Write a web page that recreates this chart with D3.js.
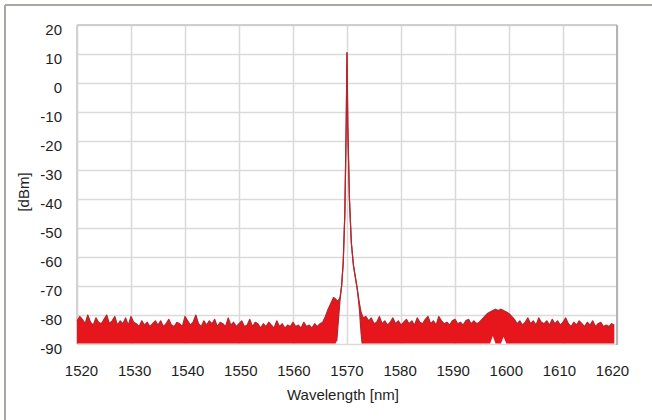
<!DOCTYPE html>
<html>
<head>
<meta charset="utf-8">
<script src="https://cdn.jsdelivr.net/npm/d3@7"></script>
<style>
  html, body { margin: 0; padding: 0; background: #fff; }
  svg { display: block; font-family: "Liberation Sans", Arial, sans-serif; }
</style>
</head>
<body>
<svg id="chart" width="652" height="420"></svg>
<script>
// ---------------- data ----------------
const xTicks = [1520, 1530, 1540, 1550, 1560, 1570, 1580, 1590, 1600, 1610, 1620];
const yTicks = [20, 10, 0, -10, -20, -30, -40, -50, -60, -70, -80, -90];
const xTitle = "Wavelength [nm]";
const yTitle = "[dBm]";

// noise floor bottom of the trace band
const floorDbm = -89.8;

// left noise: 1520.0 .. 1565.0 every 0.5 nm (upper envelope, dBm)
const leftNoiseTop = [
  -82, -80.5, -81.5, -83, -80, -82.5, -83.5, -81, -82.5, -83,
  -81.5, -80, -83, -82, -80.5, -83.5, -82, -83, -81, -83.5,
  -80.5, -82.5, -83, -84, -82, -83.5, -82.5, -84, -83, -82,
  -83.5, -82, -84, -83, -81.5, -83.5, -84, -82.5, -83, -84,
  -80.5, -82, -83.5, -82.5, -80, -83, -84, -82, -83.5, -82,
  -83, -81.5, -84, -82.5, -83, -84, -81, -83.5, -82.5, -84,
  -83, -82, -84, -83.5, -81.5, -84, -82.5, -83, -84.5, -83,
  -84, -82.5, -83.5, -84.5, -82, -84, -83, -84.5, -83.5, -84,
  -82.5, -84, -83.5, -84.5, -82.5, -84, -83.5, -84.5, -83, -84,
  -83
];

// laser line region (wavelength, upper, lower)
const peakWl     = [1565.5, 1566.0, 1566.5, 1567.0, 1567.5, 1567.9, 1568.1, 1568.4, 1568.7, 1569.0, 1569.3, 1569.6, 1569.85, 1570.0, 1570.15, 1570.45, 1570.8, 1571.2, 1571.55, 1571.9, 1572.3, 1572.6, 1572.8, 1573.0, 1573.5];
const peakTop    = [-82.5, -80.5, -78, -76, -74, -74.5, -75, -75, -74, -70, -62, -45, -15, 10.5, -15, -40, -55, -63, -67, -71, -76, -79, -80, -81, -80.5];
const peakBottom = [-89.8, -89.8, -89.8, -89.8, -89.8, -89.8, -89, -82, -75, -70, -62, -45, -15, 10.5, -15, -40, -55, -63, -67, -71, -78, -86, -89.8, -89.8, -89.8];

// right noise: 1574.0 .. 1619.5 every 0.5 nm (upper envelope, dBm)
const rightNoiseTop = [
  -82, -81, -83, -82.5, -80.5, -83, -82, -83.5, -82.5, -81,
  -83, -82, -83.5, -82.5, -81.5, -83, -82, -83.5, -81, -82.5,
  -83, -81.5, -80.5, -83, -82, -83.5, -80.5, -82, -83, -82.5,
  -83.5, -82, -81.5, -83, -82.5, -83.5, -82, -81.5, -83, -82,
  -83, -82.5, -81.5, -80.5, -79.5, -79, -78.5, -78, -78.5, -78,
  -78.5, -79, -79.5, -80.5, -81.5, -83, -82, -83.5, -82.5, -81,
  -83, -82, -83.5, -81, -82.5, -83, -82, -83.5, -81.5, -83,
  -82, -83.5, -82.5, -81, -83, -84, -82.5, -83.5, -82, -83,
  -84, -82.5, -83.5, -82, -84, -83, -82.5, -84, -83.5, -84,
  -83, -83.5
];
// small notches in the lower edge of the right noise band
const rightNoiseNotchWl = [1597.0, 1599.0];
const rightNoiseNotchDbm = [-87.2, -87.5];

// ---------------- build series ----------------
const leftWl = d3.range(0, leftNoiseTop.length).map(i => 1520 + i * 0.5);
const rightWl = d3.range(0, rightNoiseTop.length).map(i => 1574 + i * 0.5);
const series = [];
leftWl.forEach((w, i) => series.push({ wl: w, top: leftNoiseTop[i], bottom: floorDbm }));
peakWl.forEach((w, i) => series.push({ wl: w, top: peakTop[i], bottom: peakBottom[i] }));
rightWl.forEach((w, i) => {
  const k = rightNoiseNotchWl.indexOf(w);
  series.push({ wl: w, top: rightNoiseTop[i], bottom: k >= 0 ? rightNoiseNotchDbm[k] : floorDbm });
});

// ---------------- layout ----------------
const svg = d3.select("#chart");
const pL = 77, pR = 617, pT = 25, pB = 344;

svg.append("rect").attr("width", 652).attr("height", 420).attr("fill", "#fff");

// outer frame (top and left edges of the panel)
svg.append("line").attr("x1", 5).attr("x2", 652).attr("y1", 5).attr("y2", 5)
  .attr("stroke", "#a9a79f").attr("stroke-width", 2);
svg.append("line").attr("x1", 5).attr("x2", 5).attr("y1", 5).attr("y2", 420)
  .attr("stroke", "#a9a79f").attr("stroke-width", 2);

const x = d3.scaleLinear().domain([1520, 1620]).range([pL, pR]);
const y = d3.scaleLinear().domain([-90, 20]).range([pB, pT]);
const xLabel = x.copy().range([81, 612]);

// gridlines
const gridColor = "#dadada";
const gx = svg.append("g").attr("transform", `translate(0,${pB})`)
  .call(d3.axisBottom(x).tickValues(xTicks).tickSize(-(pB - pT)).tickFormat(""));
gx.select(".domain").remove();
gx.selectAll("line").attr("stroke", gridColor).attr("stroke-width", 1.5);

const gy = svg.append("g").attr("transform", `translate(${pL},0)`)
  .call(d3.axisLeft(y).tickValues(yTicks).tickSize(-(pR - pL)).tickFormat(""));
gy.select(".domain").remove();
gy.selectAll("line").attr("stroke", gridColor).attr("stroke-width", 1.5);

// plot frame
svg.append("line").attr("x1", pL).attr("x2", pR).attr("y1", pT).attr("y2", pT)
  .attr("stroke", "#cfcfcf").attr("stroke-width", 2);
svg.append("line").attr("x1", pL).attr("x2", pL).attr("y1", pT).attr("y2", pB)
  .attr("stroke", "#d2d2d2").attr("stroke-width", 2);
svg.append("line").attr("x1", pR).attr("x2", pR).attr("y1", pT).attr("y2", pB + 1)
  .attr("stroke", "#b4b4b4").attr("stroke-width", 2);

// trace band
const area = d3.area()
  .x(d => x(d.wl))
  .y0(d => y(d.bottom))
  .y1(d => y(d.top));
svg.append("path").datum(series)
  .attr("d", area)
  .attr("fill", "#e6161c");

const line = d3.line().x(d => x(d.wl)).y(d => y(d.top));
svg.append("path").datum(series)
  .attr("d", line)
  .attr("fill", "none")
  .attr("stroke", "#b3262c")
  .attr("stroke-width", 1.2)
  .attr("stroke-linejoin", "round");

// inner (lower) edge around the laser line
const peakSeries = series.filter(d => d.wl >= 1568.0 && d.wl <= 1572.9);
const lowLine = d3.line().x(d => x(d.wl)).y(d => y(d.bottom));
svg.append("path").datum(peakSeries)
  .attr("d", lowLine)
  .attr("fill", "none")
  .attr("stroke", "#b3262c")
  .attr("stroke-width", 1.2);

// axes labels (plain hyphen-minus, as in the reference)
const fmt = d => String(d);
const textColor = "#1e1e1e";
const ax = svg.append("g").attr("transform", `translate(0,${pB})`)
  .call(d3.axisBottom(xLabel).tickValues(xTicks).tickSize(0).tickPadding(21).tickFormat(fmt));
ax.select(".domain").remove();
ax.selectAll("text").attr("font-size", 15).attr("fill", textColor)
  .attr("font-family", "'Liberation Sans', Arial, sans-serif");

const ay = svg.append("g").attr("transform", `translate(${pL},0)`)
  .call(d3.axisLeft(y).tickValues(yTicks).tickSize(0).tickPadding(15).tickFormat(fmt));
ay.select(".domain").remove();
ay.selectAll("text").attr("font-size", 15).attr("fill", textColor).attr("y", 5)
  .attr("font-family", "'Liberation Sans', Arial, sans-serif");

svg.append("text")
  .attr("x", 343).attr("y", 400)
  .attr("text-anchor", "middle")
  .attr("font-size", 15).attr("fill", textColor)
  .text(xTitle);

svg.append("text")
  .attr("transform", "translate(29,192) rotate(-90)")
  .attr("text-anchor", "middle")
  .attr("font-size", 15).attr("fill", textColor)
  .text(yTitle);
</script>
</body>
</html>
